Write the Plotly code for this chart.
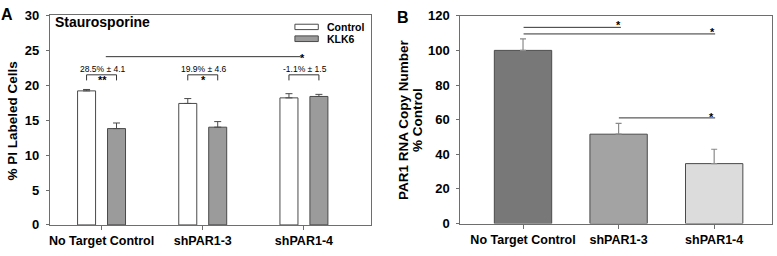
import plotly.graph_objects as go

# ---------------- data ----------------
categories = ["No Target Control", "shPAR1-3", "shPAR1-4"]

# Panel A: % PI labeled cells (Staurosporine)
control_vals = [19.2, 17.4, 18.2]
control_err = [0.2, 0.7, 0.6]
klk6_vals = [13.8, 14.0, 18.4]
klk6_err = [0.8, 0.8, 0.3]
stat_labels = ["28.5% \u00b1 4.1", "19.9% \u00b1 4.6", "-1.1% \u00b1 1.5"]
stat_marks = ["**", "*", ""]

# Panel B: PAR1 RNA copy number % control
par1_vals = [100.0, 51.6, 34.6]
par1_err = [6.7, 6.3, 8.3]
par1_colors = ["#787878", "#a3a3a3", "#dcdcdc"]

W, H = 777, 256
def px(x):
    return x / W
def py(y):
    return 1 - y / H

FONT = "Liberation Sans, Arial, sans-serif"
AX = "#6e6e6e"
EDGE = "#4a4a4a"

fig = go.Figure()

bw = 0.178
half = 0.148
fig.add_trace(go.Bar(
    x=categories, y=control_vals, width=bw, offset=-half - bw / 2,
    marker=dict(color="white", line=dict(color=EDGE, width=1)),
    error_y=dict(type="data", symmetric=False, array=control_err,
                 arrayminus=[0] * 3, color=EDGE, thickness=1, width=3.5),
    xaxis="x", yaxis="y", name="Control", showlegend=False))
fig.add_trace(go.Bar(
    x=categories, y=klk6_vals, width=bw, offset=half - bw / 2,
    marker=dict(color="#9b9b9b", line=dict(color=EDGE, width=1)),
    error_y=dict(type="data", symmetric=False, array=klk6_err,
                 arrayminus=[0] * 3, color=EDGE, thickness=1, width=3.5),
    xaxis="x", yaxis="y", name="KLK6", showlegend=False))

fig.add_trace(go.Bar(
    x=categories, y=par1_vals, width=0.6,
    marker=dict(color=par1_colors, line=dict(color=EDGE, width=1)),
    error_y=dict(type="data", symmetric=False, array=par1_err,
                 arrayminus=[0] * 3, color="#8a8a8a", thickness=1.2, width=3),
    xaxis="x2", yaxis="y2", showlegend=False))

axcommon = dict(showline=True, linecolor=AX, linewidth=1, mirror=True,
                showgrid=False, zeroline=False, ticks="outside",
                tickcolor=AX, ticklen=4, tickwidth=1,
                tickfont=dict(family=FONT, size=12.5, color="black", weight="bold"))
ytick = dict(family=FONT, size=13, color="black", weight="bold")

fig.update_layout(
    width=W, height=H, margin=dict(l=0, r=0, t=0, b=0),
    paper_bgcolor="white", plot_bgcolor="white", barmode="overlay",
    xaxis=dict(domain=[px(49), px(370.5)], range=[-0.51, 2.663],
               type="category", anchor="y", **axcommon),
    yaxis=dict(domain=[py(231.5), py(9)], range=[0, 30], dtick=5,
               anchor="x", ticklabelstandoff=4, **{**axcommon, "ticklen": 3, "tickfont": ytick}),
    xaxis2=dict(domain=[px(460), px(772)], range=[-0.655, 2.605],
                type="category", anchor="y2", **axcommon),
    yaxis2=dict(domain=[py(230), py(9.3)], range=[0, 120], dtick=20,
                anchor="x2", ticklabelstandoff=4, **{**axcommon, "ticklen": 3, "tickfont": ytick}),
)

shapes = []
ann = []
LC = "#333333"

def note(**kw):
    d = dict(showarrow=False, xanchor="center", yanchor="middle")
    d.update(kw)
    ann.append(d)

# Panel A brackets and stats
for i in range(3):
    x0, x1 = i - half, i + half
    shapes.append(dict(type="path", xref="x", yref="y",
                       path=f"M {x0},20.7 L {x0},21.5 L {x1},21.5 L {x1},20.7",
                       line=dict(color=LC, width=1)))
    note(xref="x", yref="y", x=i + 0.015, y=22.4, text=stat_labels[i],
         font=dict(family=FONT, size=8.5, color="black"))
    if stat_marks[i]:
        note(xref="x", yref="y", x=i + 0.01, y=20.75, text=stat_marks[i],
             font=dict(family=FONT, size=11, color="black", weight="bold"))
shapes.append(dict(type="line", xref="x", yref="y", x0=0.042, x1=1.967, y0=24.1, y1=24.1,
                   line=dict(color=LC, width=1)))
note(xref="x", yref="y", x=1.99, y=23.95, text="*",
     font=dict(family=FONT, size=11, color="black", weight="bold"))

# Panel B significance lines
for (a, b, yl, sx, sy) in [(0.006, 1.024, 113.3, 1.003, 114.6),
                           (0.006, 2.01, 109.5, 1.98, 110.8),
                           (1.003, 2.01, 61.0, 1.975, 61.7)]:
    shapes.append(dict(type="line", xref="x2", yref="y2", x0=a, x1=b, y0=yl, y1=yl,
                       line=dict(color=LC, width=1)))
    note(xref="x2", yref="y2", x=sx, y=sy, text="*",
         font=dict(family=FONT, size=11, color="black", weight="bold"))

# Legend (panel A)
for (label, col, y0, y1) in [("Control", "white", 18.3, 24.0), ("KLK6", "#9b9b9b", 30.7, 36.7)]:
    shapes.append(dict(type="rect", xref="paper", yref="paper",
                       x0=px(294.3), x1=px(317.7), y0=py(y1), y1=py(y0),
                       fillcolor=col, line=dict(color=EDGE, width=1)))
    note(xref="paper", yref="paper", x=px(324), y=py((y0 + y1) / 2),
         xanchor="left", text=label,
         font=dict(family=FONT, size=10.5, color="black", weight="bold"))

# Titles / labels
note(xref="paper", yref="paper", x=px(52), y=py(15.7), xanchor="left",
     text="Staurosporine", font=dict(family=FONT, size=14, color="black", weight="bold"))
note(xref="paper", yref="paper", x=px(6.5), y=py(8), text="A",
     font=dict(family=FONT, size=16, color="black", weight="bold"))
note(xref="paper", yref="paper", x=px(402.5), y=py(11), text="B",
     font=dict(family=FONT, size=16, color="black", weight="bold"))
note(xref="paper", yref="paper", x=px(11), y=py(120.5), text="% PI Labeled Cells",
     textangle=-90, font=dict(family=FONT, size=13.5, color="black", weight="bold"))
note(xref="paper", yref="paper", x=px(403), y=py(119.5), text="PAR1 RNA Copy Number",
     textangle=-90, font=dict(family=FONT, size=13.5, color="black", weight="bold"))
note(xref="paper", yref="paper", x=px(417), y=py(119.5), text="% Control",
     textangle=-90, font=dict(family=FONT, size=13.5, color="black", weight="bold"))

fig.update_layout(shapes=shapes, annotations=ann)
fig.write_html("out.html", config={"displayModeBar": False},
               post_script="document.body.style.margin='0';document.documentElement.style.overflow='hidden';")
